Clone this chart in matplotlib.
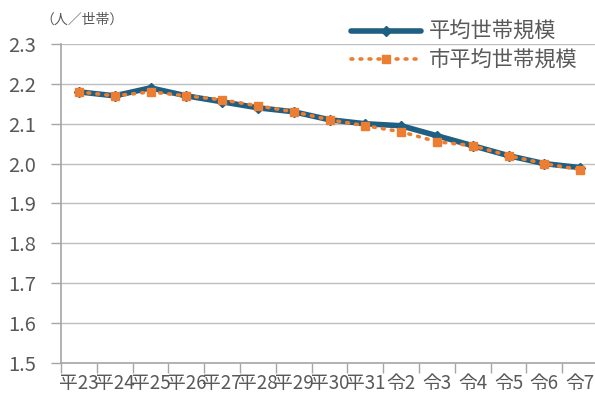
import matplotlib.pyplot as plt
import numpy as np

plt.rcParams['font.family'] = ['Noto Sans CJK JP', 'DejaVu Sans']

years = ['平23', '平24', '平25', '平26', '平27', '平28', '平29', '平30',
         '平31', '令2', '令3', '令4', '令5', '令6', '令7']
avg_size = [2.18, 2.17, 2.19, 2.17, 2.155, 2.14, 2.13, 2.11,
            2.10, 2.095, 2.07, 2.045, 2.02, 2.00, 1.99]
city_avg_size = [2.18, 2.17, 2.18, 2.17, 2.16, 2.145, 2.13, 2.11,
                 2.095, 2.08, 2.055, 2.045, 2.02, 2.00, 1.985]

blue = '#1f5f82'
orange = '#ed7d31'
gray_txt = '#595959'

fig = plt.figure(figsize=(5.95, 4.04), dpi=100)
ax = fig.add_axes([61 / 595, 1 - 363 / 404, 537 / 595, 319 / 404])

x = np.arange(len(years))
ax.plot(x, avg_size, color=blue, lw=4, marker='D', ms=5,
        solid_capstyle='round', label='平均世帯規模', zorder=3)
ax.plot(x, city_avg_size, color=orange, lw=2.6, ls=(0, (0.5, 2.0)),
        dash_capstyle='round', marker='s', ms=6, label='市平均世帯規模', zorder=4)

ax.set_xlim(-0.5, len(years) - 0.5)
ax.set_ylim(1.5, 2.3)
ax.set_yticks(np.arange(1.5, 2.31, 0.1))
ax.set_yticklabels(['%.1f' % v for v in np.arange(1.5, 2.31, 0.1)])
ax.set_xticks(x)
ax.set_xticklabels(years)
ax.set_xticks(np.arange(-0.5, len(years), 1), minor=True)

ax.grid(axis='y', color='#bfbfbf', lw=1)
ax.set_axisbelow(True)
for s in ['top', 'right']:
    ax.spines[s].set_visible(False)
for s in ['left', 'bottom']:
    ax.spines[s].set_color('#a6a6a6')
    ax.spines[s].set_linewidth(1.2)

ax.tick_params(axis='y', length=7, width=1, color='#a6a6a6', pad=11,
               labelsize=14.5, labelcolor=gray_txt)
ax.tick_params(axis='x', which='major', length=0, pad=7,
               labelsize=13.5, labelcolor=gray_txt)
ax.tick_params(axis='x', which='minor', length=7, width=1, color='#a6a6a6')

fig.text(40 / 595, 1 - 20 / 404, '（人／世帯）', fontsize=10, color=gray_txt,
         va='center', ha='left')

leg = ax.legend(loc='upper left', bbox_to_anchor=(332 / 595, 1 - 2 / 404),
                bbox_transform=fig.transFigure, frameon=False, fontsize=15.3,
                handlelength=3.3, labelspacing=0.3, handletextpad=0.35,
                markerscale=1, labelcolor=gray_txt)

fig.savefig('out.png', dpi=100)
